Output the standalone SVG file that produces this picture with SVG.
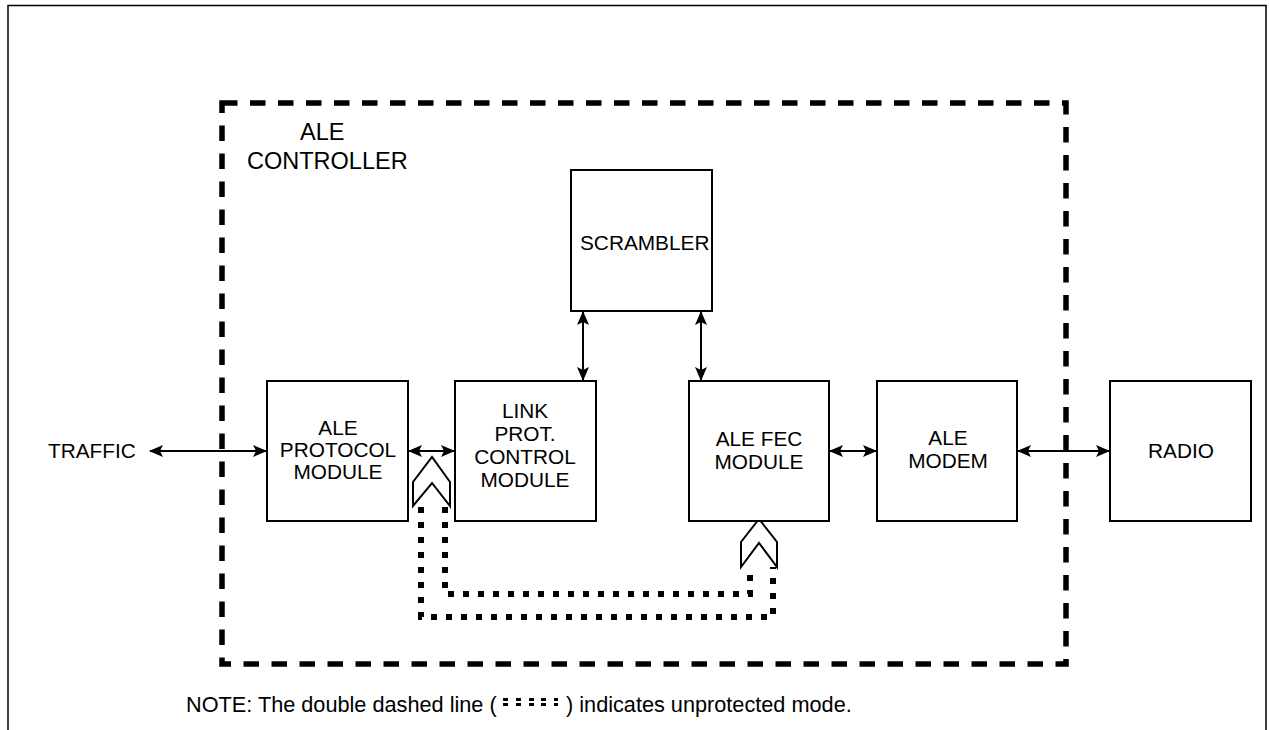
<svg xmlns="http://www.w3.org/2000/svg" width="1269" height="730" viewBox="0 0 1269 730">
<style>
  text { font-family: "Liberation Sans", Arial, sans-serif; font-size: 20.8px; fill: #000; }
  .c { text-anchor: middle; }
  .lbl { font-size: 23.5px; }
  .note { font-size: 21.7px; }
  .box { fill: #fff; stroke: #000; stroke-width: 2; }
  .frame { fill: none; stroke: #000; stroke-width: 1.5; }
  .ctl { fill: none; stroke: #000; stroke-width: 5.5; stroke-dasharray: 15.5 12.5; }
  .link { fill: none; stroke: #000; stroke-width: 2; }
  .dot { fill: none; stroke: #000; stroke-width: 6; stroke-dasharray: 6 9; }
  .chev { fill: #fff; stroke: #000; stroke-width: 2; stroke-linejoin: miter; }
</style>
<defs>
  <marker id="ah" markerUnits="userSpaceOnUse" markerWidth="14" markerHeight="12" viewBox="0 0 14 12" refX="13" refY="6" orient="auto-start-reverse">
    <path d="M0,0 L14,6 L0,12 L3,6 z" fill="#000"/>
  </marker>
</defs>
<rect width="1269" height="730" fill="#fff"/>
<path class="frame" d="M8,730 V5.5 H1266 V730"/>
<g id="controller">
  <path class="ctl" d="M222,103 H1066 V664 H222 Z"/>
  <text class="lbl" x="300" y="140">ALE</text>
  <text class="lbl" x="247" y="169">CONTROLLER</text>
</g>
<g id="connectors">
  <line class="link" x1="150" y1="451" x2="266" y2="451" marker-start="url(#ah)" marker-end="url(#ah)"/>
  <line class="link" x1="409" y1="451" x2="454" y2="451" marker-start="url(#ah)" marker-end="url(#ah)"/>
  <line class="link" x1="830" y1="451" x2="876" y2="451" marker-start="url(#ah)" marker-end="url(#ah)"/>
  <line class="link" x1="1018" y1="451" x2="1109" y2="451" marker-start="url(#ah)" marker-end="url(#ah)"/>
  <line class="link" x1="583" y1="312" x2="583" y2="380" marker-start="url(#ah)" marker-end="url(#ah)"/>
  <line class="link" x1="701" y1="312" x2="701" y2="380" marker-start="url(#ah)" marker-end="url(#ah)"/>
  <path class="dot" d="M421,507 V617 H773 V567"/>
  <path class="dot" d="M445,507 V594 H750 V567"/>
  <path class="chev" d="M413,482 L432,457 L450,482 L450,506 L432,483 L413,506 Z"/>
  <path class="chev" d="M741,542 L759,519 L777,542 L777,567 L759,543 L741,567 Z"/>
</g>
<g id="scrambler">
  <rect class="box" x="571" y="170" width="141" height="141"/>
  <text x="580" y="250">SCRAMBLER</text>
</g>
<g id="traffic">
  <text x="48" y="458">TRAFFIC</text>
</g>
<g id="protocol">
  <rect class="box" x="267" y="381" width="141" height="140"/>
  <text class="c" x="338" y="435">ALE</text>
  <text class="c" x="338" y="457">PROTOCOL</text>
  <text class="c" x="338" y="479">MODULE</text>
</g>
<g id="linkprot">
  <rect class="box" x="455" y="381" width="141" height="140"/>
  <text class="c" x="525" y="418">LINK</text>
  <text class="c" x="525" y="441">PROT.</text>
  <text class="c" x="525" y="464">CONTROL</text>
  <text class="c" x="525" y="487">MODULE</text>
</g>
<g id="fec">
  <rect class="box" x="689" y="381" width="140" height="140"/>
  <text class="c" x="759" y="446">ALE FEC</text>
  <text class="c" x="759" y="469">MODULE</text>
</g>
<g id="modem">
  <rect class="box" x="877" y="381" width="140" height="140"/>
  <text class="c" x="948" y="445">ALE</text>
  <text class="c" x="948" y="468">MODEM</text>
</g>
<g id="radio">
  <rect class="box" x="1110" y="381" width="141" height="140"/>
  <text class="c" x="1181" y="458">RADIO</text>
</g>
<g id="note">
  <text class="note" x="186" y="712">NOTE: The double dashed line (</text>
  <g fill="#000">
    <rect x="503" y="698" width="5" height="3"/><rect x="503" y="703" width="5" height="3"/>
    <rect x="516" y="698" width="5" height="3"/><rect x="516" y="703" width="5" height="3"/>
    <rect x="529" y="698" width="5" height="3"/><rect x="529" y="703" width="5" height="3"/>
    <rect x="541" y="698" width="5" height="3"/><rect x="541" y="703" width="5" height="3"/>
    <rect x="554" y="698" width="4" height="3"/><rect x="554" y="703" width="4" height="3"/>
  </g>
  <text class="note" x="566" y="712">) indicates unprotected mode.</text>
</g>
</svg>
